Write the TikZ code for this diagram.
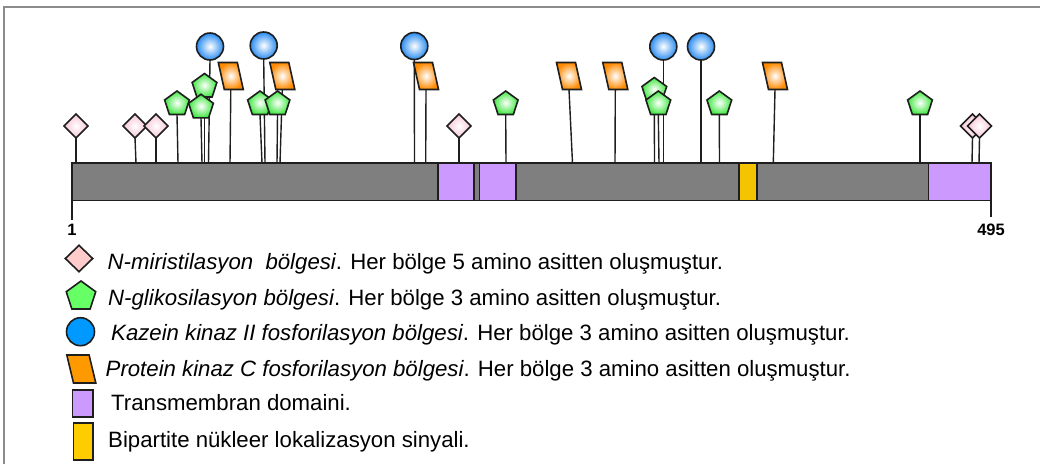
\documentclass[tikz,border=0pt]{standalone}
\usepackage{fontspec}
\setmainfont{Liberation Sans}
\usetikzlibrary{shapes.geometric,backgrounds}

\definecolor{barGray}{HTML}{7F7F7F}
\definecolor{edgeDark}{HTML}{1E1E1E}
\definecolor{tmPurple}{HTML}{CC99FF}
\definecolor{nlsYellow}{HTML}{F5C400}
\definecolor{nlsLegend}{HTML}{FFCC00}
\definecolor{myrPink}{HTML}{F7C3D6}
\definecolor{myrLegend}{HTML}{FFCCCC}
\definecolor{glyGreen}{HTML}{3FE83F}
\definecolor{glyLegend}{HTML}{66FF66}
\definecolor{ckBlue}{HTML}{2A8CF0}
\definecolor{ckLegend}{HTML}{0099FF}
\definecolor{pkcOrange}{HTML}{FF8A00}
\definecolor{pkcLegend}{HTML}{FF9900}
\definecolor{frameGray}{HTML}{8C8C8C}

\begin{document}
\begin{tikzpicture}[x=1pt,y=-1pt,
  outl/.style={draw=edgeDark, line width=1.6pt},
  site/.style={outl, inner sep=0pt, outer sep=0pt},
  myr/.style={site, diamond, minimum width=24pt, minimum height=24pt,
    inner color=white, outer color=myrPink},
  gly/.style={site, regular polygon, regular polygon sides=5, minimum size=26pt,
    inner color=white, outer color=glyGreen},
  ck/.style={site, circle, minimum size=27pt, inner color=white, outer color=ckBlue},
  pkcbox/.style={rectangle, inner sep=0pt, outer sep=0pt, minimum width=25pt, minimum height=27pt},
  region/.style={outl, inner sep=0pt, outer sep=0pt, anchor=north west},
  stem/.style={draw=edgeDark, line width=1.4pt},
  numlbl/.style={font=\fontsize{16.5}{18}\selectfont\bfseries, inner sep=0pt},
  legtxt/.style={font=\fontsize{22.2}{24}\selectfont, inner sep=0pt, anchor=base west},
]
\useasboundingbox (0,0) rectangle (1040,464);

% frame
\draw[frameGray, line width=2pt] (3.5,464) -- (3.5,6.5) -- (1040,6.5);

% protein chain and domains
\node[region, fill=barGray, minimum width=919pt, minimum height=37.5pt] (bar) at (72,163) {};
\node[region, fill=tmPurple, minimum width=36.5pt, minimum height=37.5pt] (tm1) at (437.7,163) {};
\node[region, fill=tmPurple, minimum width=36.5pt, minimum height=37.5pt] (tm2) at (479.3,163) {};
\node[region, fill=nlsYellow, minimum width=18.3pt, minimum height=37.5pt] (nls) at (738.7,163) {};
\node[region, fill=tmPurple, minimum width=62.7pt, minimum height=37.5pt] (tm3) at (928.3,163) {};

% end positions
\node[numlbl] (n1) at (72,229.5) {1};
\node[numlbl] (n495) at (991,230) {495};
\coordinate (t1) at (72,220);
\coordinate (t495) at (991,217);
\draw[stem] (bar.south west) -- (t1);
\draw[stem] (bar.south east) -- (t495);

% N-myristoylation sites
\node[myr] (m1) at (76,126) {};
\node[myr] (m2) at (135,126) {};
\node[myr] (m3) at (156,126) {};
\node[myr] (m4) at (459,126) {};
\node[myr] (m5) at (972.5,126) {};
\node[myr] (m6) at (979.5,126) {};

% N-glycosylation sites
\node[gly] (g1) at (177,104) {};
\node[gly] (g2) at (204.5,86.5) {};
\node[gly] (g3) at (201,107.3) {};
\node[gly] (g4) at (260,104) {};
\node[gly] (g5) at (277.5,104) {};
\node[gly] (g6) at (505.7,104) {};
\node[gly] (g7) at (654.3,90.5) {};
\node[gly] (g8) at (658.3,104) {};
\node[gly] (g9) at (719.3,104) {};
\node[gly] (g10) at (920,104) {};

% casein kinase II sites
\node[ck] (c1) at (210,46.5) {};
\node[ck] (c2) at (263.7,45.5) {};
\node[ck] (c3) at (414.3,46) {};
\node[ck] (c4) at (663.3,46.5) {};
\node[ck] (c5) at (701,46.5) {};

% protein kinase C sites: slanted parallelograms inside their boxes
\node[pkcbox] (k1) at (230.8,76) {};
\node[pkcbox] (k2) at (282.3,76) {};
\node[pkcbox] (k3) at (426,76) {};
\node[pkcbox] (k4) at (569,76) {};
\node[pkcbox] (k5) at (615.3,76) {};
\node[pkcbox] (k6) at (775,76) {};
\foreach \n in {k1,k2,k3,k4,k5,k6}
  \shade[outl, inner color=white, outer color=pkcOrange]
    (\n.north west) -- ([xshift=19pt]\n.north west) -- (\n.south east)
    -- ([xshift=-19pt]\n.south east) -- cycle;

% stems down to the chain
\begin{pgfonlayer}{background}
\foreach \n/\x in {m1/76,m2/136,m3/156,m4/459,m5/972,m6/979,
                   g1/178,g2/204.5,g3/202,g4/262,g5/277,g6/506,g7/654.5,g8/659,g9/719.5,g10/920,
                   c1/208.5,c2/265,c3/414.5,c4/663.3,c5/701,
                   k1/230,k2/280,k3/425.7,k4/572.5,k5/615,k6/773.3}
  \draw[stem] (\n.south) -- (\x,0 |- bar.north);
\end{pgfonlayer}

% legend
\node[outl, diamond, minimum width=28pt, minimum height=27pt, inner sep=0pt, fill=myrLegend] (lm) at (79,258.5) {};
\node[outl, regular polygon, regular polygon sides=5, minimum size=31pt, inner sep=0pt, fill=glyLegend] (lg) at (81,296.5) {};
\node[outl, circle, minimum size=28pt, inner sep=0pt, fill=ckLegend] (lc) at (80.5,331.7) {};
\node[pkcbox, minimum width=29pt, minimum height=28pt] (lk) at (81.3,369) {};
\draw[outl, fill=pkcLegend]
  (lk.north west) -- ([xshift=22.3pt]lk.north west) -- (lk.south east)
  -- ([xshift=-22.3pt]lk.south east) -- cycle;
\node[region, fill=tmPurple, minimum width=20.4pt, minimum height=26.7pt] (lt) at (72.3,390) {};
\node[region, fill=nlsLegend, minimum width=19.4pt, minimum height=37.3pt] (ln) at (73.3,422.7) {};

\node[legtxt] (tx1) at (107.5,269.5) {\textit{N-miristilasyon}\ \ \textit{bölgesi}. Her bölge 5 amino asitten oluşmuştur.};
\node[legtxt] (tx2) at (108,305) {\textit{N-glikosilasyon bölgesi}. Her bölge 3 amino asitten oluşmuştur.};
\node[legtxt] (tx3) at (111,340.5) {\textit{Kazein kinaz II fosforilasyon bölgesi}. Her bölge 3 amino asitten oluşmuştur.};
\node[legtxt] (tx4) at (105.5,376.7) {\textit{Protein kinaz C fosforilasyon bölgesi}. Her bölge 3 amino asitten oluşmuştur.};
\node[legtxt] (tx5) at (111,410) {Transmembran domaini.};
\node[legtxt] (tx6) at (108,447.3) {Bipartite nükleer lokalizasyon sinyali.};
\end{tikzpicture}
\end{document}
